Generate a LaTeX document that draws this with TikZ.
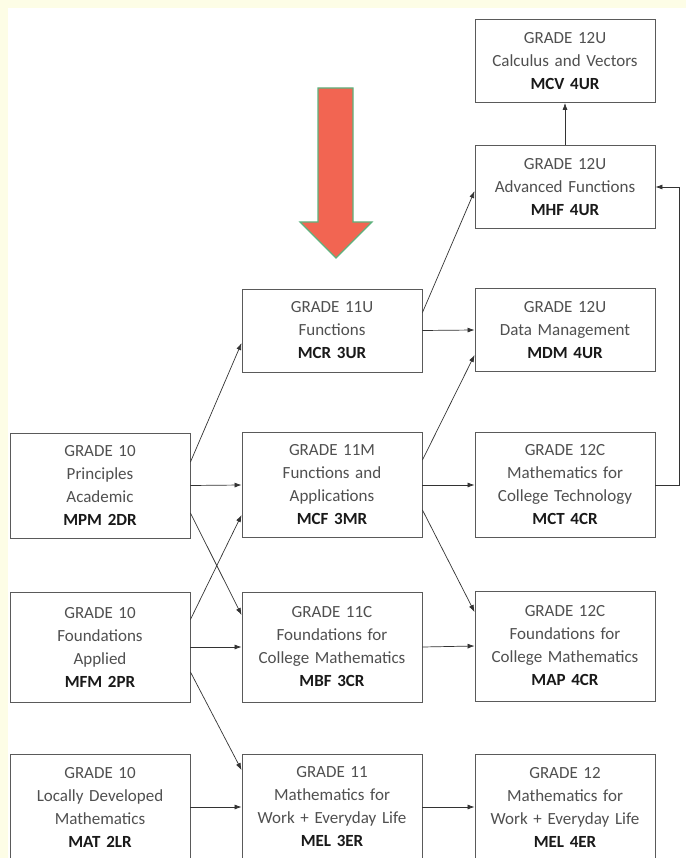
\documentclass[tikz,border=0pt]{standalone}
\usepackage{fontspec}
\setmainfont{Carlito}
\usepackage{xcolor}
\usetikzlibrary{arrows.meta}

\definecolor{pageyellow}{HTML}{FDFDE6}
\definecolor{txtgrey}{HTML}{505050}
\definecolor{boxgrey}{HTML}{5A5A5A}
\definecolor{hintred}{HTML}{F26552}
\definecolor{hintgreen}{HTML}{5DB37E}

\newcommand{\crs}[1]{{\color{black!90}\bfseries #1}}

\tikzset{
  course/.style={draw=boxgrey, line width=0.9pt, fill=white, text width=176pt,
    align=center, inner sep=0pt, minimum width=180pt, text=txtgrey,
    font=\fontsize{17}{23}\selectfont},
  small/.style={course, minimum height=83pt},
  tall/.style={course, minimum height=105pt},
  link/.style={draw=black!80, line width=0.7pt, -{Latex[length=7pt,width=5pt]}}
}

\begin{document}
\begin{tikzpicture}[x=1pt, y=-1pt]
\useasboundingbox (0,0) rectangle (686,858);
\fill[pageyellow] (0,0) rectangle (686,858);
\fill[white] (8,8) rectangle (686,858);

% hint arrow
\filldraw[fill=hintred, draw=hintgreen, line width=1.2pt]
  (318,88) -- (353,88) -- (353,222) -- (372,222) -- (336,258)
  -- (300,222) -- (318,222) -- cycle;

% grade 12
\node[small] (mcv) at (565,61) {GRADE 12U\\Calculus and Vectors\\\crs{MCV 4UR}};
\node[small] (mhf) at (565,187) {GRADE 12U\\Advanced Functions\\\crs{MHF 4UR}};
\node[small] (mdm) at (565,330) {GRADE 12U\\Data Management\\\crs{MDM 4UR}};
\node[tall] (mct) at (565,485) {GRADE 12C\\Mathematics for\\College Technology\\\crs{MCT 4CR}};
\node[tall, minimum height=110pt] (map) at (565,646) {GRADE 12C\\Foundations for\\College Mathematics\\\crs{MAP 4CR}};
\node[tall] (mel4) at (565,807) {GRADE 12\\Mathematics for\\Work + Everyday Life\\\crs{MEL 4ER}};

% grade 11
\node[small] (mcr) at (332,330.5) {GRADE 11U\\Functions\\\crs{MCR 3UR}};
\node[tall] (mcf) at (332,485) {GRADE 11M\\Functions and\\Applications\\\crs{MCF 3MR}};
\node[tall, minimum height=110pt] (mbf) at (332,647) {GRADE 11C\\Foundations for\\College Mathematics\\\crs{MBF 3CR}};
\node[tall] (mel3) at (332,807) {GRADE 11\\Mathematics for\\Work + Everyday Life\\\crs{MEL 3ER}};

% grade 10
\node[tall] (mpm) at (100,485.5) {GRADE 10\\Principles\\Academic\\\crs{MPM 2DR}};
\node[tall, minimum height=110pt] (mfm) at (100,647) {GRADE 10\\Foundations\\Applied\\\crs{MFM 2PR}};
\node[tall] (mat) at (100,807) {GRADE 10\\Locally Developed\\Mathematics\\\crs{MAT 2LR}};

% grade 10 -> grade 11
\draw[link] ([yshift=23.5pt]mpm.east) -- ([yshift=-12.5pt]mcr.west);
\draw[link] (mpm.east) -- (mcf.west);
\draw[link] ([yshift=-27.5pt]mpm.east) -- ([yshift=32pt]mbf.west);
\draw[link] ([yshift=27.5pt]mfm.east) -- ([yshift=-30pt]mcf.west);
\draw[link] (mfm.east) -- (mbf.west);
\draw[link] ([yshift=-25pt]mfm.east) -- ([yshift=37pt]mel3.west);
\draw[link] (mat.east) -- (mel3.west);

% grade 11 -> grade 12
\draw[link] ([yshift=18pt]mcr.east) -- ([yshift=-4pt]mhf.west);
\draw[link] (mcr.east) -- (mdm.west);
\draw[link] ([yshift=25pt]mcf.east) -- ([yshift=-25pt]mdm.west);
\draw[link] (mcf.east) -- (mct.west);
\draw[link] ([yshift=-25pt]mcf.east) -- ([yshift=34pt]map.west);
\draw[link] (mbf.east) -- (map.west);
\draw[link] (mel3.east) -- (mel4.west);

% grade 12 -> grade 12
\draw[link] (mct.east) -- ++(24,0) |- (mhf.east);
\draw[link] (mhf.north) -- (mcv.south);
\end{tikzpicture}
\end{document}
